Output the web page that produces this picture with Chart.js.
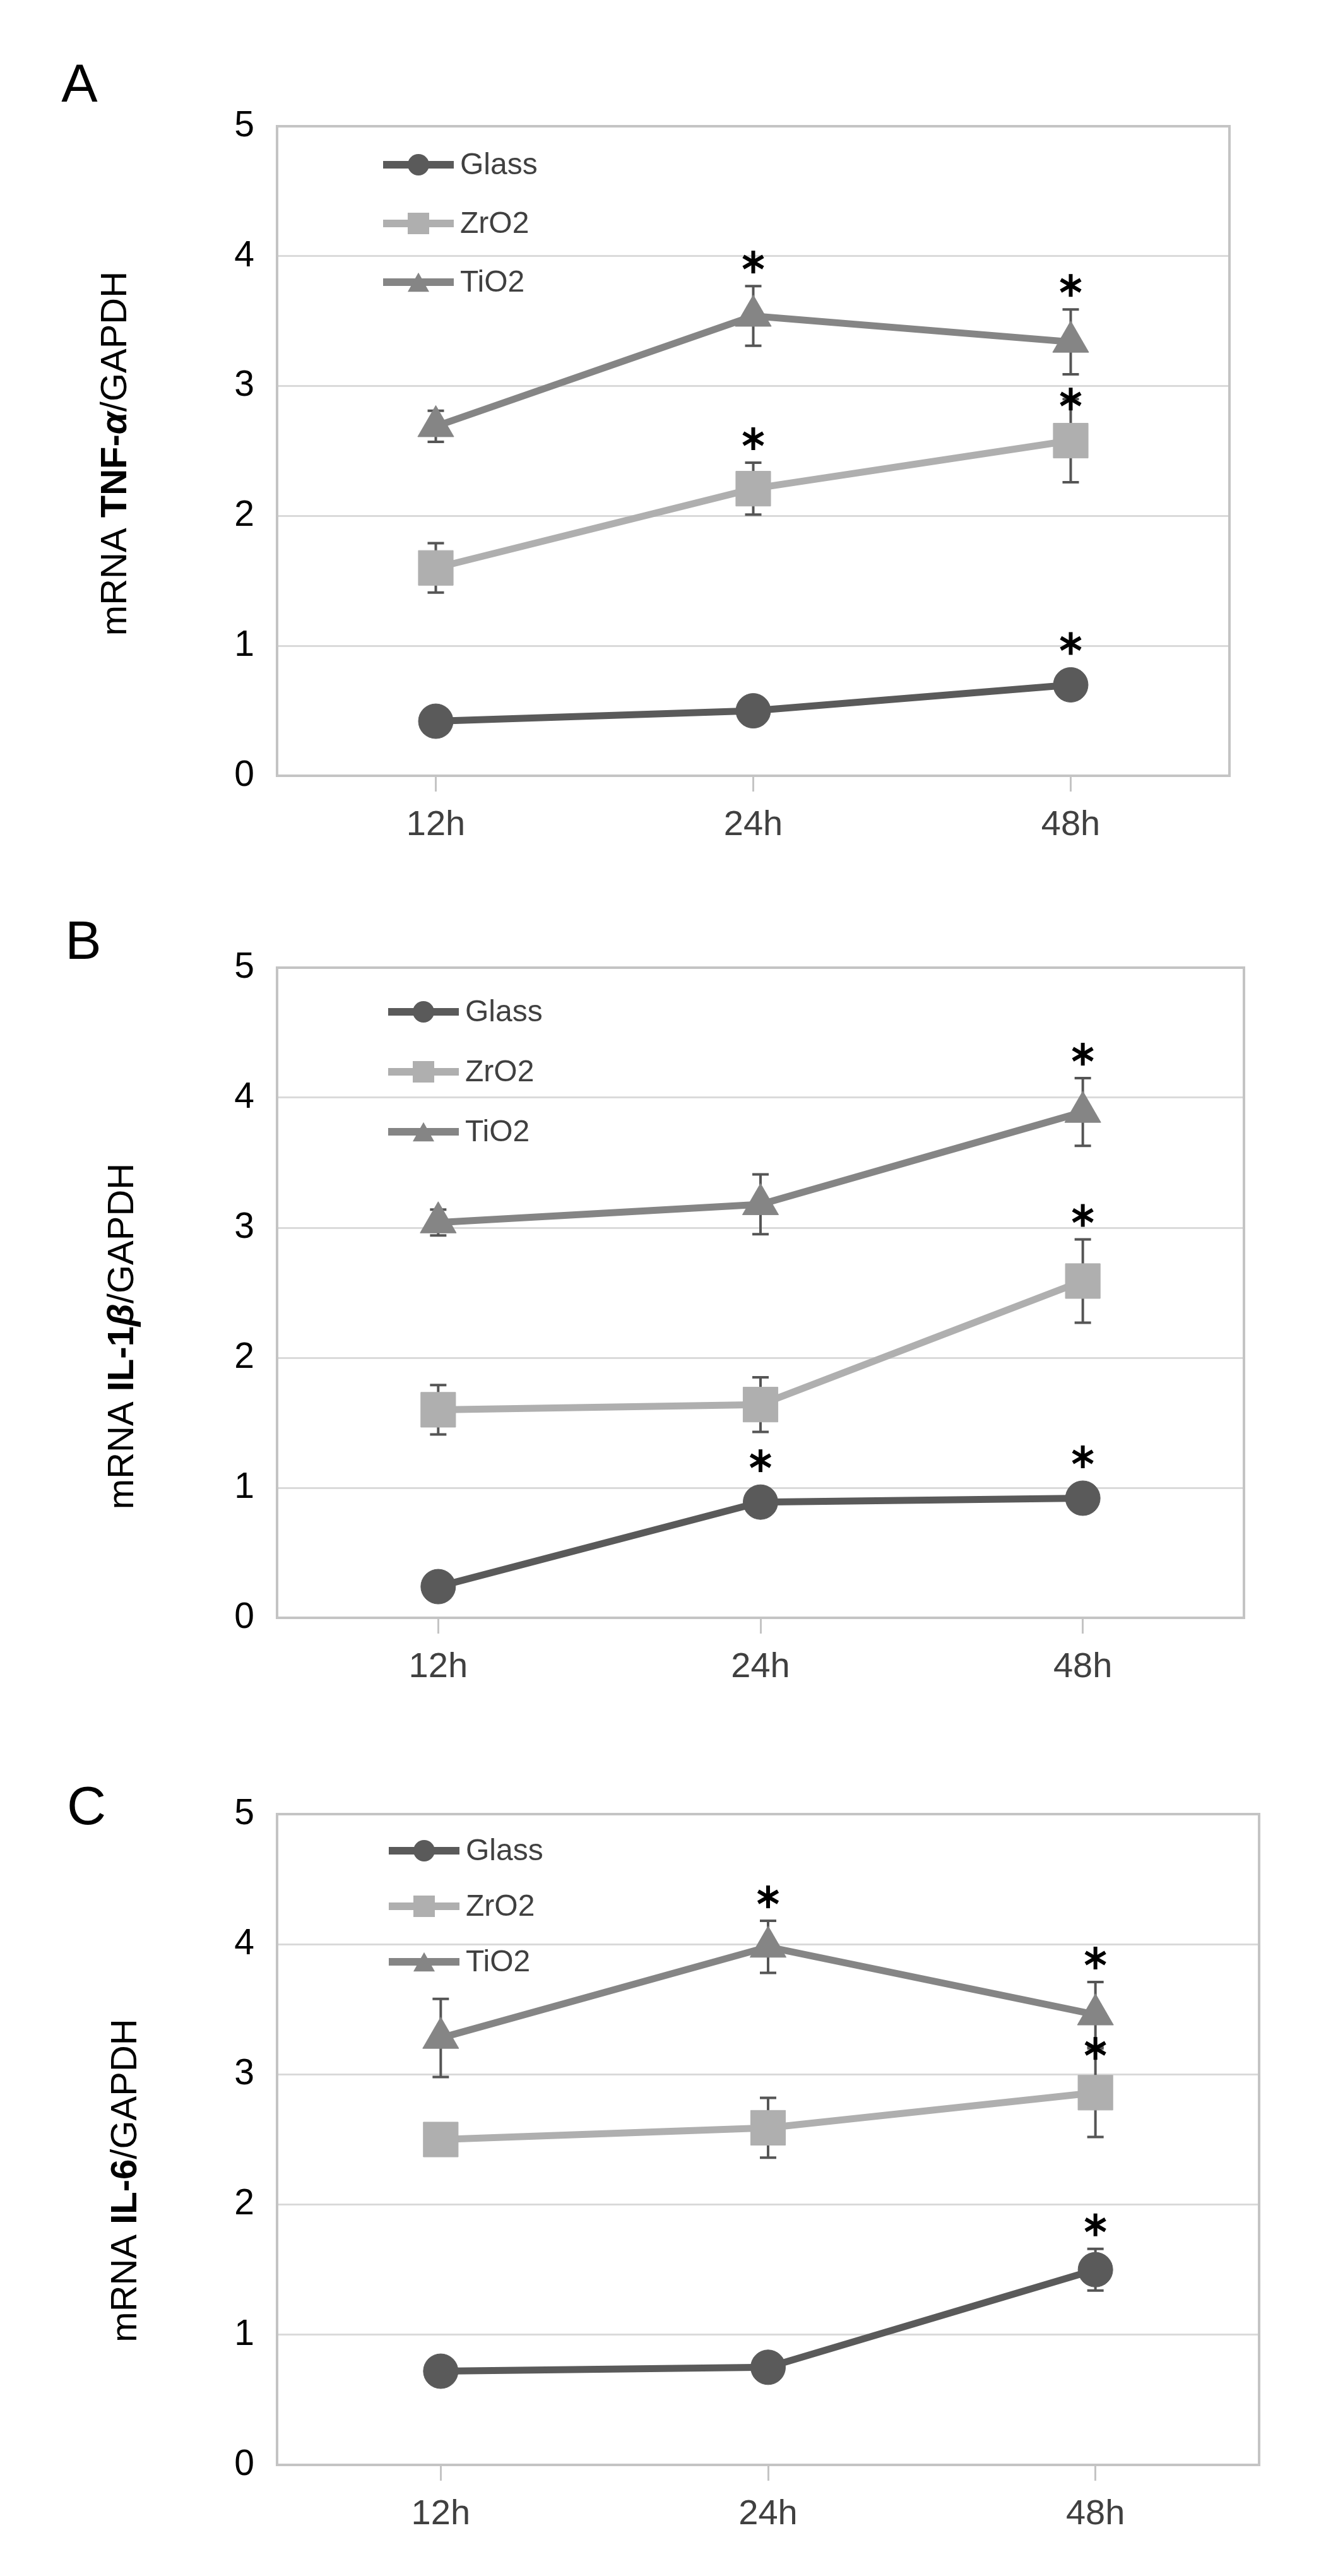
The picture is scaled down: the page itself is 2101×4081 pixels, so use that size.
<!DOCTYPE html>
<html>
<head>
<meta charset="utf-8">
<title>mRNA TNF-α / IL-1β / IL-6</title>
<script src="https://cdn.jsdelivr.net/npm/chart.js@4.4.1/dist/chart.umd.min.js"></script>
<style>
  body { margin: 0; background: #ffffff; }
  #wrap { position: relative; width: 2101px; height: 4081px; background: #ffffff; }
  canvas { position: absolute; left: 0; }
</style>
</head>
<body>
<div id="wrap">
  <canvas id="chartA" width="2101" height="1360" style="top:0px"></canvas>
  <canvas id="chartB" width="2101" height="1360" style="top:1360px"></canvas>
  <canvas id="chartC" width="2101" height="1361" style="top:2720px"></canvas>
</div>
<script>
/* DATOS */
var timeLabels = ['12h', '24h', '48h'];
var seriesNames = ['Glass', 'ZrO2', 'TiO2'];
var yMin = 0, yMax = 5, yStep = 1;

/* A - TNF-alpha */
var tnfGlass = [0.42, 0.50, 0.70];
var tnfGlassSd = [0.03, 0.04, 0.05];
var tnfGlassStar = [0, 0, 1];
var tnfZro2 = [1.60, 2.21, 2.58];
var tnfZro2Sd = [0.19, 0.20, 0.32];
var tnfZro2Star = [0, 1, 1];
var tnfTio2 = [2.69, 3.54, 3.34];
var tnfTio2Sd = [0.12, 0.23, 0.25];
var tnfTio2Star = [0, 1, 1];

/* B - IL-1beta */
var il1Glass = [0.24, 0.89, 0.92];
var il1GlassSd = [0.03, 0.04, 0.04];
var il1GlassStar = [0, 1, 1];
var il1Zro2 = [1.60, 1.64, 2.59];
var il1Zro2Sd = [0.19, 0.21, 0.32];
var il1Zro2Star = [0, 0, 1];
var il1Tio2 = [3.04, 3.18, 3.89];
var il1Tio2Sd = [0.10, 0.23, 0.26];
var il1Tio2Star = [0, 0, 1];

/* C - IL-6 */
var il6Glass = [0.72, 0.75, 1.50];
var il6GlassSd = [0.03, 0.03, 0.16];
var il6GlassStar = [0, 0, 1];
var il6Zro2 = [2.50, 2.59, 2.86];
var il6Zro2Sd = [0.04, 0.23, 0.34];
var il6Zro2Star = [0, 0, 1];
var il6Tio2 = [3.28, 3.98, 3.46];
var il6Tio2Sd = [0.30, 0.20, 0.25];
var il6Tio2Star = [0, 1, 1];

/* ESTILOS */
var colGlass = '#5a5a5a';
var colZro2 = '#afafaf';
var colTio2 = '#858585';
var colFrame = '#c4c4c4';
var colGrid = '#dadada';
var colErr = '#555555';
var tickFont = "'Liberation Sans', Arial, sans-serif";
var legendFont = "'Liberation Sans Narrow', 'Liberation Sans', Arial, sans-serif";
var W = 2101;

function makeSets(g, gs, gst, z, zs, zst, t, ts, tst) {
    return [
        { label: seriesNames[0], data: g, sd: gs, stars: gst,
          borderColor: colGlass, backgroundColor: colGlass, pointBorderColor: colGlass,
          borderWidth: 11, pointStyle: 'circle', pointRadius: 27.5, pointBorderWidth: 1, tension: 0 },
        { label: seriesNames[1], data: z, sd: zs, stars: zst,
          borderColor: colZro2, backgroundColor: colZro2, pointBorderColor: colZro2,
          borderWidth: 11, pointStyle: 'rect', pointRadius: 39, pointBorderWidth: 1, tension: 0 },
        { label: seriesNames[2], data: t, sd: ts, stars: tst,
          borderColor: colTio2, backgroundColor: colTio2, pointBorderColor: colTio2,
          borderWidth: 11, pointStyle: 'triangle', pointRadius: 33, pointBorderWidth: 1, tension: 0 }
    ];
}

function drawStar(ctx, x, y, size) {
    ctx.save();
    ctx.strokeStyle = '#000000';
    ctx.lineWidth = 6;
    for (var k = 0; k < 3; k++) {
        var a = Math.PI / 2 + k * Math.PI / 3;
        ctx.beginPath();
        ctx.moveTo(x - Math.cos(a) * size / 2, y - Math.sin(a) * size / 2);
        ctx.lineTo(x + Math.cos(a) * size / 2, y + Math.sin(a) * size / 2);
        ctx.stroke();
    }
    ctx.restore();
}

function drawMarker(ctx, style, x, y, s, color) {
    ctx.fillStyle = color;
    ctx.beginPath();
    if (style == 'circle') {
        ctx.arc(x, y, s / 2, 0, Math.PI * 2);
    } else if (style == 'rect') {
        ctx.rect(x - s / 2, y - s / 2, s, s);
    } else {
        ctx.moveTo(x, y - s * 0.45);
        ctx.lineTo(x + s / 2, y + s * 0.45);
        ctx.lineTo(x - s / 2, y + s * 0.45);
        ctx.closePath();
    }
    ctx.fill();
}

function markerHalf(ds) {
    return ds.pointStyle == 'rect' ? ds.pointRadius * Math.SQRT1_2 : ds.pointRadius;
}

/* plugin: barras de error, asteriscos, marco, leyenda, titulos */
var extrasPlugin = {
    id: 'extras',
    beforeDatasetsDraw: function (chart) {
        var ctx = chart.ctx, ys = chart.scales.y, cap = 13;
        ctx.save();
        ctx.strokeStyle = colErr;
        ctx.lineWidth = 4;
        chart.data.datasets.forEach(function (ds, i) {
            var meta = chart.getDatasetMeta(i);
            meta.data.forEach(function (pt, j) {
                var yt = ys.getPixelForValue(ds.data[j] + ds.sd[j]);
                var yb = ys.getPixelForValue(ds.data[j] - ds.sd[j]);
                ctx.beginPath();
                ctx.moveTo(pt.x, yt); ctx.lineTo(pt.x, yb);
                ctx.moveTo(pt.x - cap, yt); ctx.lineTo(pt.x + cap, yt);
                ctx.moveTo(pt.x - cap, yb); ctx.lineTo(pt.x + cap, yb);
                ctx.stroke();
            });
        });
        ctx.restore();
    },
    afterDatasetsDraw: function (chart) {
        var ctx = chart.ctx, ys = chart.scales.y, a = chart.chartArea;
        var o = chart.options.plugins.extras;
        var sets = chart.data.datasets;
        // asteriscos
        sets.forEach(function (ds, i) {
            var meta = chart.getDatasetMeta(i);
            meta.data.forEach(function (pt, j) {
                if (!ds.stars[j]) return;
                var errTop = ys.getPixelForValue(ds.data[j] + ds.sd[j]);
                var top = Math.min(errTop, pt.y - markerHalf(ds));
                var sy = top - 38;
                // si choca con la serie de arriba, se pone sobre la barra
                sets.forEach(function (other, k) {
                    if (k == i) return;
                    var op = chart.getDatasetMeta(k).data[j];
                    var lo = Math.max(ys.getPixelForValue(other.data[j] - other.sd[j]), op.y + markerHalf(other) * 0.5);
                    if (op.y < pt.y && sy - 18 < lo) sy = errTop;
                });
                drawStar(ctx, pt.x, sy, 36);
            });
        });
        // marco
        ctx.save();
        ctx.strokeStyle = colFrame;
        ctx.lineWidth = 4;
        ctx.strokeRect(a.left, a.top, a.right - a.left, a.bottom - a.top);
        ctx.restore();
        // leyenda
        ctx.save();
        sets.forEach(function (ds, i) {
            var ly = a.top + o.legendTop + i * o.legendStep;
            var lx = a.left + o.legendLeft;
            ctx.strokeStyle = ds.borderColor;
            ctx.lineWidth = 12;
            ctx.beginPath();
            ctx.moveTo(lx, ly); ctx.lineTo(lx + 112, ly);
            ctx.stroke();
            drawMarker(ctx, ds.pointStyle, lx + 56, ly, 34, ds.borderColor);
            ctx.fillStyle = '#404040';
            ctx.font = '48px ' + legendFont;
            ctx.textAlign = 'left';
            ctx.textBaseline = 'middle';
            ctx.fillText(ds.label, lx + 122, ly + 2);
        });
        ctx.restore();
    },
    afterDraw: function (chart) {
        var ctx = chart.ctx, a = chart.chartArea;
        var o = chart.options.plugins.extras;
        // letra del panel
        ctx.save();
        ctx.fillStyle = '#000000';
        ctx.font = '86px ' + tickFont;
        ctx.textAlign = 'center';
        ctx.textBaseline = 'middle';
        ctx.fillText(o.letter, o.letterX, o.letterY);
        ctx.restore();
        // titulo eje y (partes en negrita)
        ctx.save();
        ctx.translate(o.titleX, (a.top + a.bottom) / 2 + o.titleDy);
        ctx.rotate(-Math.PI / 2);
        var total = 0;
        o.title.forEach(function (p) {
            ctx.font = p[1] + ' 58px ' + tickFont;
            p.w = ctx.measureText(p[0]).width;
            total += p.w;
        });
        var x = -total / 2;
        ctx.fillStyle = '#000000';
        ctx.textAlign = 'left';
        ctx.textBaseline = 'middle';
        o.title.forEach(function (p) {
            ctx.font = p[1] + ' 58px ' + tickFont;
            ctx.fillText(p[0], x, 0);
            x += p.w;
        });
        ctx.restore();
    }
};

function showPanel(id, sets, box) {
    var canvas = document.getElementById(id);
    var H = canvas.height;
    return new Chart(canvas, {
        type: 'line',
        data: { labels: timeLabels, datasets: sets },
        options: {
            responsive: false,
            animation: false,
            devicePixelRatio: 1,
            layout: { padding: { top: box.top, right: W - box.right, bottom: 0, left: 0 } },
            plugins: {
                legend: { display: false },
                tooltip: { enabled: false },
                extras: box
            },
            scales: {
                x: {
                    offset: true,
                    grid: { drawOnChartArea: false, drawTicks: true, tickLength: 25, color: colFrame, lineWidth: 3 },
                    border: { color: colFrame, width: 4 },
                    ticks: { padding: 20, color: '#404040', font: { family: tickFont, size: 56 } },
                    afterFit: function (s) { s.height = H - box.bottom; }
                },
                y: {
                    min: yMin, max: yMax,
                    grid: {
                        drawTicks: false, lineWidth: 3,
                        color: function (c) { return (c.tick.value == yMin || c.tick.value == yMax) ? colFrame : colGrid; }
                    },
                    border: { color: colFrame, width: 4 },
                    ticks: { stepSize: yStep, padding: 36, color: '#000000', font: { family: tickFont, size: 57 } },
                    afterFit: function (s) { s.width = box.left; }
                }
            }
        },
        plugins: [extrasPlugin]
    });
}

showPanel('chartA',
    makeSets(tnfGlass, tnfGlassSd, tnfGlassStar, tnfZro2, tnfZro2Sd, tnfZro2Star, tnfTio2, tnfTio2Sd, tnfTio2Star),
    { left: 439, right: 1948, top: 200, bottom: 1229,
      legendLeft: 168, legendTop: 61, legendStep: 93,
      letter: 'A', letterX: 126, letterY: 137,
      titleX: 184, titleDy: 4,
      title: [['mRNA ', 'normal'], ['TNF-', 'bold'], ['\u03b1', 'italic bold'], ['/GAPDH', 'normal']] });

showPanel('chartB',
    makeSets(il1Glass, il1GlassSd, il1GlassStar, il1Zro2, il1Zro2Sd, il1Zro2Star, il1Tio2, il1Tio2Sd, il1Tio2Star),
    { left: 439, right: 1971, top: 173, bottom: 1203,
      legendLeft: 176, legendTop: 70, legendStep: 95,
      letter: 'B', letterX: 132, letterY: 135,
      titleX: 195, titleDy: 69,
      title: [['mRNA ', 'normal'], ['IL-1', 'bold'], ['\u03b2', 'italic bold'], ['/GAPDH', 'normal']] });

showPanel('chartC',
    makeSets(il6Glass, il6GlassSd, il6GlassStar, il6Zro2, il6Zro2Sd, il6Zro2Star, il6Tio2, il6Tio2Sd, il6Tio2Star),
    { left: 439, right: 1995, top: 154, bottom: 1185,
      legendLeft: 177, legendTop: 58, legendStep: 88,
      letter: 'C', letterX: 137, letterY: 146,
      titleX: 200, titleDy: 65,
      title: [['mRNA ', 'normal'], ['IL-6', 'bold'], ['/GAPDH', 'normal']] });
</script>
</body>
</html>
